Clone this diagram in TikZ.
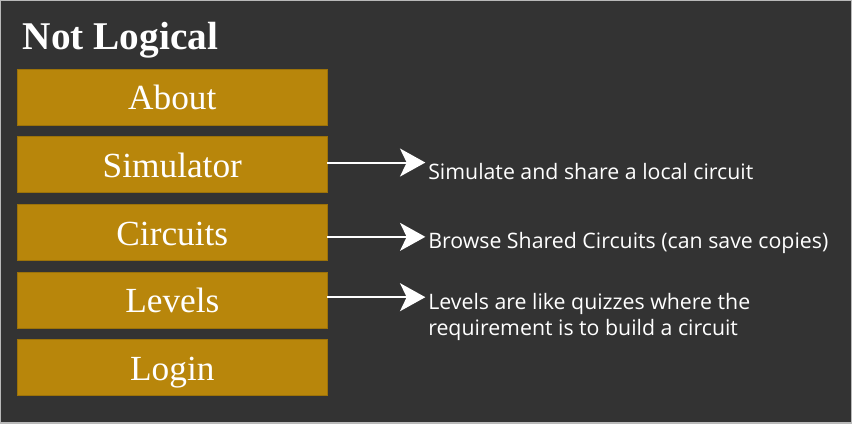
\documentclass[tikz,border=0pt]{standalone}
\usepackage{fontspec}
\setmainfont{Liberation Serif}
\newfontfamily\descfont{Open Sans}
\usetikzlibrary{arrows.meta,positioning}

\definecolor{pagebg}{HTML}{333333}
\definecolor{gold}{HTML}{B8860B}

\begin{document}
\begin{tikzpicture}[
        x=0.75pt, y=-0.75pt,
        node distance=8.4pt,
        menubtn/.style={rectangle, draw=gold!85!black, fill=gold, text=white, minimum width=232.5pt, minimum height=42pt, inner sep=0pt, text height=24pt, text depth=4.5pt, font=\fontsize{26.5}{30}\selectfont, line width=0.4pt},
        desc/.style={text=white, anchor=west, align=left, inner sep=0pt, font=\descfont\fontsize{16}{19.5}\selectfont},
        line/.style={draw=white, -{Stealth[length=19pt, width=21pt, inset=5pt]}, line width=1.5pt, shorten >=2pt}
    ]

    % Background
    \path [fill=pagebg, draw=gray!55, line width=0.8pt] (0,0) rectangle (852,423);
    \useasboundingbox (0,0) rectangle (852,423);

    % Title
    \node [anchor=base west, inner sep=0pt, text=white, font=\bfseries\fontsize{29.5}{34}\selectfont] (title) at (22,49) {Not Logical};

    % Menu buttons
    \node [menubtn] (about) at (172,96.5) {About};
    \node [menubtn, below=of about] (sim) {Simulator};
    \node [menubtn, below=of sim] (circ) {Circuits};
    \node [menubtn, below=of circ] (lvl) {Levels};
    \node [menubtn, below=of lvl] (login) {Login};

    % Descriptions
    \node [desc] (simtxt) at (428,171) {Simulate and share a local circuit};
    \node [desc] (circtxt) at (428,243) {Browse Shared Circuits (can save copies)};
    \node [desc] (lvltxt) at (428,317) {Levels are like quizzes where the\\requirement is to build a circuit};

    % Arrows
    \path [line] ([yshift=1.5pt]sim.east) -- ([yshift=1.5pt]sim.east -| simtxt.west);
    \path [line] ([yshift=-3.5pt]circ.east) -- ([yshift=-3.5pt]circ.east -| circtxt.west);
    \path [line] ([yshift=2pt]lvl.east) -- ([yshift=2pt]lvl.east -| lvltxt.west);

\end{tikzpicture}
\end{document}
